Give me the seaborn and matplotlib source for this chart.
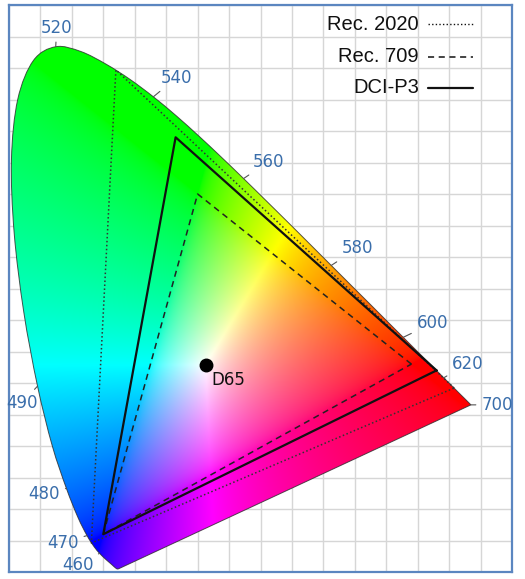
import numpy as np
import matplotlib
matplotlib.use("Agg")
import matplotlib.pyplot as plt
import seaborn as sns
import pandas as pd
from matplotlib.path import Path
from matplotlib.patches import PathPatch

# CIE 1931 spectral locus (chromaticity x, y), 380-700 nm, 5 nm steps
wavelengths = list(range(380, 705, 5))
locus_x = [0.1741, 0.1740, 0.1738, 0.1736, 0.1733, 0.1730, 0.1726, 0.1721, 0.1714, 0.1703,
           0.1689, 0.1669, 0.1644, 0.1611, 0.1566, 0.1510, 0.1440, 0.1355, 0.1241, 0.1096,
           0.0913, 0.0687, 0.0454, 0.0235, 0.0082, 0.0039, 0.0139, 0.0389, 0.0743, 0.1142,
           0.1547, 0.1929, 0.2296, 0.2658, 0.3016, 0.3373, 0.3731, 0.4087, 0.4441, 0.4788,
           0.5125, 0.5448, 0.5752, 0.6029, 0.6270, 0.6482, 0.6658, 0.6801, 0.6915, 0.7006,
           0.7079, 0.7140, 0.7190, 0.7230, 0.7260, 0.7283, 0.7300, 0.7311, 0.7320, 0.7327,
           0.7334, 0.7340, 0.7344, 0.7346, 0.7347]
locus_y = [0.0050, 0.0050, 0.0049, 0.0049, 0.0048, 0.0048, 0.0048, 0.0048, 0.0051, 0.0058,
           0.0069, 0.0086, 0.0109, 0.0138, 0.0177, 0.0227, 0.0297, 0.0399, 0.0578, 0.0868,
           0.1327, 0.2007, 0.2950, 0.4127, 0.5384, 0.6548, 0.7502, 0.8120, 0.8338, 0.8262,
           0.8059, 0.7816, 0.7543, 0.7243, 0.6923, 0.6589, 0.6245, 0.5896, 0.5547, 0.5202,
           0.4866, 0.4544, 0.4242, 0.3965, 0.3725, 0.3514, 0.3340, 0.3197, 0.3083, 0.2993,
           0.2920, 0.2859, 0.2809, 0.2770, 0.2740, 0.2717, 0.2700, 0.2689, 0.2680, 0.2673,
           0.2666, 0.2660, 0.2656, 0.2654, 0.2653]

label_wavelengths = [460, 470, 480, 490, 520, 540, 560, 580, 600, 620, 700]
# label offsets in pixels (style)
label_offsets = {460: (-22, -12), 470: (-24, -7), 480: (-22, -6), 490: (-16, -17),
                 520: (1, 19), 540: (23, 19), 560: (25, 17), 580: (26, 17),
                 600: (29, 14), 620: (24, 14), 700: (26, 0)}

gamut_names = ["Rec. 2020", "Rec. 709", "DCI-P3"]
rec2020_x = [0.708, 0.170, 0.131]
rec2020_y = [0.292, 0.797, 0.046]
rec709_x = [0.640, 0.300, 0.150]
rec709_y = [0.330, 0.600, 0.060]
p3_x = [0.680, 0.265, 0.150]
p3_y = [0.320, 0.690, 0.060]
d65_x, d65_y = 0.3127, 0.3290

sns.set_style("white")
W, H = 525, 579
fig = plt.figure(figsize=(W / 100, H / 100), dpi=100)
L, R, T, B = 9, 512, 5, 572
ax = fig.add_axes([L / W, (H - B) / H, (R - L) / W, (B - T) / H])

# smooth (Catmull-Rom -> Bezier) outline through the locus points, closed by the purple line
P = np.column_stack([locus_x, locus_y])
n = len(P)
verts = [P[0]]
codes = [Path.MOVETO]
for i in range(n - 1):
    p0 = P[max(i - 1, 0)]
    p1 = P[i]
    p2 = P[i + 1]
    p3 = P[min(i + 2, n - 1)]
    verts += [p1 + (p2 - p0) / 6, p2 - (p3 - p1) / 6, p2]
    codes += [Path.CURVE4] * 3
verts += [P[0], P[0]]
codes += [Path.LINETO, Path.CLOSEPOLY]
locus_path = Path(np.array(verts), codes)

# chromaticity colours
N = 700
gx = np.linspace(0, 0.8, N)
gy = np.linspace(0, 0.9, N)
GX, GY = np.meshgrid(gx, gy)
GZ = 1 - GX - GY
XYZ = np.stack([GX, GY, GZ], -1)
M = np.array([[3.2406, -1.5372, -0.4986],
              [-0.9689, 1.8758, 0.0415],
              [0.0557, -0.2040, 1.0570]])
rgb = np.clip(XYZ @ M.T, 0, None)
mx = rgb.max(-1, keepdims=True)
mx[mx <= 0] = 1
rgb = np.clip(rgb / mx, 0, 1) ** (1 / 1.8)
rgb = np.clip(rgb, 0, 1)
im = ax.imshow(rgb, origin="lower", extent=(0, 0.8, 0, 0.9), aspect="auto",
               interpolation="bilinear", zorder=1)
clip_patch = PathPatch(locus_path, transform=ax.transData, facecolor="none",
                       edgecolor="#2a2a2a", lw=0.7, alpha=0.8, zorder=2)
ax.add_patch(clip_patch)
im.set_clip_path(clip_patch)

# gamut triangles
def tri(xs, ys):
    return pd.DataFrame({"x": xs + [xs[0]], "y": ys + [ys[0]]})

sns.lineplot(data=tri(rec2020_x, rec2020_y), x="x", y="y", sort=False, estimator=None,
             color="#333333", lw=1.1, linestyle=(0, (1, 1.6)), ax=ax, zorder=3)
sns.lineplot(data=tri(rec709_x, rec709_y), x="x", y="y", sort=False, estimator=None,
             color="#222222", lw=1.1, linestyle=(0, (4, 3)), ax=ax, zorder=3)
sns.lineplot(data=tri(p3_x, p3_y), x="x", y="y", sort=False, estimator=None,
             color="#111111", lw=1.6, linestyle="-", ax=ax, zorder=3)

ax.set_xlim(0, 0.8)
ax.set_ylim(0, 0.9)
ax.set_xlabel("")
ax.set_ylabel("")

# grid
ax.set_xticks(np.arange(0, 0.801, 0.05))
ax.set_yticks(np.arange(0, 0.901, 0.05))
ax.set_xticklabels([])
ax.set_yticklabels([])
ax.tick_params(length=0)
ax.grid(True, color="#d6d6d6", lw=1.0)
ax.set_axisbelow(True)
for s in ax.spines.values():
    s.set_color("#5b86c0")
    s.set_linewidth(1.6)

# D65
ax.plot([d65_x], [d65_y], "o", color="black", ms=9, zorder=4)
ax.annotate("D65", xy=(d65_x, d65_y), xytext=(6, -15), textcoords="offset pixels",
            ha="left", va="center", fontsize=12, color="#111111", zorder=5)

# wavelength labels
for wl in label_wavelengths:
    i = wavelengths.index(wl)
    dx, dy = label_offsets[wl]
    ax.annotate(str(wl), xy=(locus_x[i], locus_y[i]), xytext=(dx, dy),
                textcoords="offset pixels", ha="center", va="center", fontsize=12,
                color="#3a6eab", annotation_clip=False, zorder=5,
                arrowprops=dict(arrowstyle="-", color="#555555", lw=0.8,
                                shrinkA=1.5, shrinkB=0))

# legend (manual, right aligned)
rows = [(gamut_names[0], 24, (0, (1, 1.6)), 1.0),
        (gamut_names[1], 57, (0, (4, 3)), 1.1),
        (gamut_names[2], 88, "-", 1.6)]
for name, ypx, ls, lw in rows:
    fig.text(419 / W, 1 - ypx / H, name, ha="right", va="center", fontsize=14.5,
             family="Liberation Sans", color="#111111")
    fig.add_artist(plt.Line2D([428 / W, 473 / W], [1 - ypx / H, 1 - ypx / H],
                              transform=fig.transFigure, color="#111111", lw=lw,
                              linestyle=ls))

fig.savefig("out.png", dpi=100)
